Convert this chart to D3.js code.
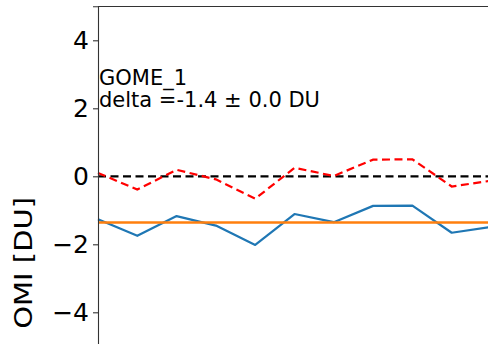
<!DOCTYPE html>
<html><head><meta charset="utf-8">
<script src="https://cdn.jsdelivr.net/npm/d3@7"></script>
<style>body{margin:0;background:#fff;} svg{display:block;}</style>
</head><body>
<svg id="c" width="488" height="344"></svg>
<script>
const steps = [0,1,2,3,4,5,6,7,8,9,10];
const gomeOmi = [-1.26,-1.75,-1.17,-1.45,-2.02,-1.11,-1.35,-0.87,-0.86,-1.66,-1.49];
const deviation = [0.10,-0.39,0.19,-0.09,-0.66,0.25,0.01,0.49,0.50,-0.30,-0.13];
const meanDelta = -1.36;
const yTicks = [-4,-2,0,2,4];
const annotation = ["GOME_1","delta =-1.4 \u00b1 0.0 DU"];
const yLabel = "GOME_1 -\u00a0 OMI [DU]";

const svg = d3.select("#c");
const font = "DejaVu Sans, sans-serif";
const x = d3.scaleLinear().domain([0,10]).range([98,491]);
const y = d3.scaleLinear().domain([-5,5]).range([346.3,6.3]);

const line = d3.line().x((d,i)=>x(steps[i])).y(d=>y(d));

svg.append("path").datum(gomeOmi).attr("d",line)
  .attr("fill","none").attr("stroke","#1f77b4").attr("stroke-width",2.2).attr("stroke-linejoin","round");
svg.append("path").datum(steps.map(()=>meanDelta)).attr("d",line)
  .attr("fill","none").attr("stroke","#ff7f0e").attr("stroke-width",2.5);
svg.append("path").datum(steps.map(()=>0)).attr("d",line)
  .attr("fill","none").attr("stroke","#000").attr("stroke-width",2.2).attr("stroke-dasharray","8,4.5");
svg.append("path").datum(deviation).attr("d",line)
  .attr("fill","none").attr("stroke","#ff0000").attr("stroke-width",2.2).attr("stroke-dasharray","8,4.5");

// spines
svg.append("line").attr("x1",98).attr("x2",488).attr("y1",6.5).attr("y2",6.5).attr("stroke","#333").attr("stroke-width",1.1);
const yAxis = d3.axisLeft(y).tickValues(yTicks).tickSize(5).tickPadding(4)
  .tickFormat(d => d < 0 ? "\u2212" + Math.abs(d) : String(d));
const ga = svg.append("g").attr("transform","translate(98,0)").call(yAxis);
ga.select(".domain").attr("stroke","#333").attr("stroke-width",1.1);
ga.selectAll(".tick line").attr("stroke","#333").attr("stroke-width",1.1);
ga.selectAll(".tick text").attr("font-family",font).attr("font-size",25).attr("fill","#000");

svg.append("text").attr("x",99).attr("y",85).attr("font-family",font).attr("font-size",21).text(annotation[0]);
svg.append("text").attr("x",99).attr("y",107).attr("font-family",font).attr("font-size",21).text(annotation[1]);

svg.append("text").attr("transform","translate(32,197) rotate(-90) scale(1,0.85)")
  .attr("text-anchor","end").attr("font-family",font).attr("font-size",29).text(yLabel);
</script>
</body></html>
